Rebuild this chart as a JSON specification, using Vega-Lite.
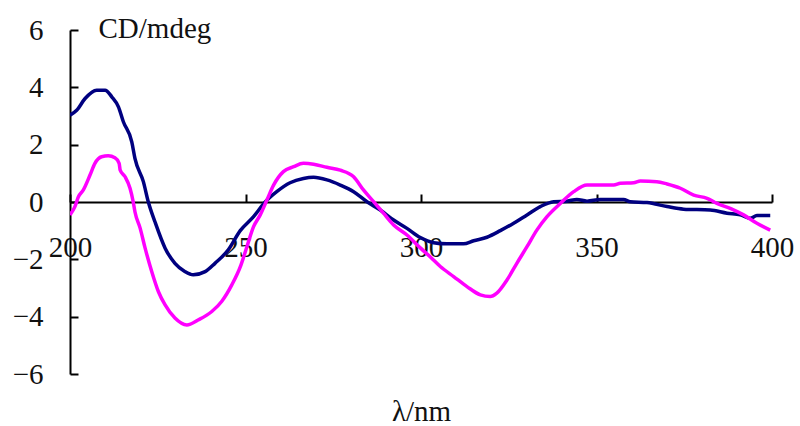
{
  "$schema": "https://vega.github.io/schema/vega-lite/v6.json",
  "width": 702,
  "height": 344,
  "autosize": {"type": "none"},
  "padding": {"left": 70, "top": 30, "right": 28, "bottom": 52},
  "background": "white",
  "config": {
    "view": {"stroke": null},
    "font": "Liberation Serif",
    "axis": {"grid": false, "domainColor": "black", "domainWidth": 2, "tickColor": "black", "tickWidth": 2, "labelFont": "Liberation Serif", "labelFontSize": 29, "labelColor": "#111", "titleFont": "Liberation Serif", "titleFontSize": 29, "titleFontWeight": "normal", "titleColor": "#111", "labelOverlap": false, "labelFlush": false}
  },
  "datasets": {
    "cd": [
      {"s": "A", "x": 200, "y": 3.03}, {"s": "A", "x": 201.9, "y": 3.2}, {"s": "A", "x": 204.3, "y": 3.61}, {"s": "A", "x": 207.6, "y": 3.9}, {"s": "A", "x": 210, "y": 3.9}, {"s": "A", "x": 211.9, "y": 3.67}, {"s": "A", "x": 213.8, "y": 3.32}, {"s": "A", "x": 215.2, "y": 2.8}, {"s": "A", "x": 217.6, "y": 2.1}, {"s": "A", "x": 218.5, "y": 1.52}, {"s": "A", "x": 220.9, "y": 0.71}, {"s": "A", "x": 222.3, "y": 0.01}, {"s": "A", "x": 224.2, "y": -0.69}, {"s": "A", "x": 227.1, "y": -1.61}, {"s": "A", "x": 229.9, "y": -2.14}, {"s": "A", "x": 232.8, "y": -2.43}, {"s": "A", "x": 235.1, "y": -2.54}, {"s": "A", "x": 238.5, "y": -2.43}, {"s": "A", "x": 241.3, "y": -2.14}, {"s": "A", "x": 245.1, "y": -1.67}, {"s": "A", "x": 248.5, "y": -1.0}, {"s": "A", "x": 252.3, "y": -0.51}, {"s": "A", "x": 255.6, "y": 0.0}, {"s": "A", "x": 258.9, "y": 0.36}, {"s": "A", "x": 262.7, "y": 0.67}, {"s": "A", "x": 266.5, "y": 0.82}, {"s": "A", "x": 269.4, "y": 0.86}, {"s": "A", "x": 273.2, "y": 0.77}, {"s": "A", "x": 277.0, "y": 0.59}, {"s": "A", "x": 280.8, "y": 0.36}, {"s": "A", "x": 284.6, "y": 0.01}, {"s": "A", "x": 288.4, "y": -0.28}, {"s": "A", "x": 292.2, "y": -0.63}, {"s": "A", "x": 296.0, "y": -0.92}, {"s": "A", "x": 299.8, "y": -1.24}, {"s": "A", "x": 303.6, "y": -1.42}, {"s": "A", "x": 307.4, "y": -1.46}, {"s": "A", "x": 312.1, "y": -1.46}, {"s": "A", "x": 315.0, "y": -1.35}, {"s": "A", "x": 318.8, "y": -1.23}, {"s": "A", "x": 322.6, "y": -1.0}, {"s": "A", "x": 326.4, "y": -0.74}, {"s": "A", "x": 330.2, "y": -0.45}, {"s": "A", "x": 334.0, "y": -0.16}, {"s": "A", "x": 337.8, "y": 0.01}, {"s": "A", "x": 341.6, "y": 0.03}, {"s": "A", "x": 344.4, "y": 0.09}, {"s": "A", "x": 347.3, "y": 0.03}, {"s": "A", "x": 351.1, "y": 0.09}, {"s": "A", "x": 357.7, "y": 0.09}, {"s": "A", "x": 359.6, "y": 0.01}, {"s": "A", "x": 364.4, "y": -0.02}, {"s": "A", "x": 370.1, "y": -0.16}, {"s": "A", "x": 374.8, "y": -0.25}, {"s": "A", "x": 382.4, "y": -0.28}, {"s": "A", "x": 387.2, "y": -0.39}, {"s": "A", "x": 391.0, "y": -0.45}, {"s": "A", "x": 393.8, "y": -0.57}, {"s": "A", "x": 395.7, "y": -0.47}, {"s": "A", "x": 399.5, "y": -0.47},
      {"s": "B", "x": 200, "y": -0.45}, {"s": "B", "x": 201.4, "y": -0.16}, {"s": "B", "x": 202.4, "y": 0.18}, {"s": "B", "x": 203.8, "y": 0.42}, {"s": "B", "x": 205.7, "y": 0.94}, {"s": "B", "x": 207.1, "y": 1.35}, {"s": "B", "x": 209.0, "y": 1.58}, {"s": "B", "x": 210.9, "y": 1.61}, {"s": "B", "x": 212.8, "y": 1.54}, {"s": "B", "x": 214.0, "y": 1.35}, {"s": "B", "x": 214.3, "y": 1.11}, {"s": "B", "x": 215.7, "y": 0.88}, {"s": "B", "x": 217.1, "y": 0.48}, {"s": "B", "x": 218.0, "y": 0.01}, {"s": "B", "x": 218.5, "y": -0.34}, {"s": "B", "x": 220.0, "y": -0.92}, {"s": "B", "x": 221.4, "y": -1.61}, {"s": "B", "x": 223.3, "y": -2.43}, {"s": "B", "x": 225.2, "y": -3.13}, {"s": "B", "x": 227.1, "y": -3.59}, {"s": "B", "x": 229.9, "y": -4.05}, {"s": "B", "x": 233.3, "y": -4.29}, {"s": "B", "x": 236.6, "y": -4.11}, {"s": "B", "x": 240.4, "y": -3.82}, {"s": "B", "x": 243.2, "y": -3.47}, {"s": "B", "x": 246.1, "y": -2.89}, {"s": "B", "x": 248.7, "y": -2.2}, {"s": "B", "x": 250.4, "y": -1.56}, {"s": "B", "x": 252.3, "y": -0.86}, {"s": "B", "x": 254.2, "y": -0.45}, {"s": "B", "x": 256.1, "y": 0.07}, {"s": "B", "x": 258.0, "y": 0.59}, {"s": "B", "x": 260.8, "y": 1.06}, {"s": "B", "x": 263.7, "y": 1.23}, {"s": "B", "x": 266.5, "y": 1.35}, {"s": "B", "x": 269.4, "y": 1.32}, {"s": "B", "x": 273.2, "y": 1.21}, {"s": "B", "x": 277.0, "y": 1.11}, {"s": "B", "x": 280.8, "y": 0.88}, {"s": "B", "x": 283.6, "y": 0.42}, {"s": "B", "x": 286.5, "y": 0.01}, {"s": "B", "x": 289.3, "y": -0.39}, {"s": "B", "x": 292.2, "y": -0.8}, {"s": "B", "x": 296.0, "y": -1.15}, {"s": "B", "x": 299.8, "y": -1.6}, {"s": "B", "x": 302.6, "y": -1.91}, {"s": "B", "x": 305.5, "y": -2.25}, {"s": "B", "x": 309.3, "y": -2.6}, {"s": "B", "x": 313.1, "y": -2.95}, {"s": "B", "x": 316.9, "y": -3.24}, {"s": "B", "x": 319.7, "y": -3.3}, {"s": "B", "x": 321.6, "y": -3.18}, {"s": "B", "x": 324.5, "y": -2.72}, {"s": "B", "x": 327.3, "y": -2.14}, {"s": "B", "x": 330.2, "y": -1.56}, {"s": "B", "x": 333.0, "y": -0.98}, {"s": "B", "x": 335.9, "y": -0.51}, {"s": "B", "x": 339.7, "y": -0.05}, {"s": "B", "x": 343.5, "y": 0.36}, {"s": "B", "x": 347.3, "y": 0.59}, {"s": "B", "x": 351.1, "y": 0.59}, {"s": "B", "x": 354.9, "y": 0.59}, {"s": "B", "x": 356.8, "y": 0.65}, {"s": "B", "x": 360.6, "y": 0.67}, {"s": "B", "x": 362.5, "y": 0.73}, {"s": "B", "x": 367.2, "y": 0.71}, {"s": "B", "x": 370.1, "y": 0.63}, {"s": "B", "x": 373.9, "y": 0.48}, {"s": "B", "x": 377.7, "y": 0.24}, {"s": "B", "x": 381.5, "y": 0.13}, {"s": "B", "x": 384.3, "y": -0.05}, {"s": "B", "x": 388.1, "y": -0.22}, {"s": "B", "x": 391.9, "y": -0.45}, {"s": "B", "x": 395.7, "y": -0.74}, {"s": "B", "x": 399.5, "y": -0.98}
    ]
  },
  "data": {"name": "cd"},
  "mark": {"type": "line", "strokeWidth": 3.5, "interpolate": "monotone", "clip": true},
  "encoding": {
    "x": {
      "field": "x", "type": "quantitative",
      "scale": {"domain": [200, 400], "nice": false, "zero": false},
      "axis": {"values": [200, 250, 300, 350, 400], "offset": -172, "tickSize": -8, "labelPadding": 39, "title": "λ/nm", "titleY": 218, "titleBaseline": "alphabetic", "titleX": 351, "titleAlign": "center"}
    },
    "y": {
      "field": "y", "type": "quantitative",
      "scale": {"domain": [-6, 6], "nice": false},
      "axis": {"values": [-6, -4, -2, 0, 2, 4, 6], "tickSize": -8, "labelPadding": 35, "labelBaseline": "middle", "title": "CD/mdeg", "titleAngle": 0, "titleAlign": "left", "titleBaseline": "alphabetic", "titleX": 28, "titleY": 7}
    },
    "color": {"field": "s", "type": "nominal", "scale": {"domain": ["A", "B"], "range": ["#000080", "#FF00FF"]}, "legend": null}
  }
}
